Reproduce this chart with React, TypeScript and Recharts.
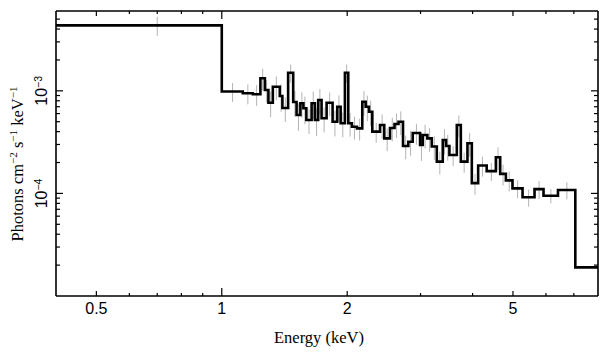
import React from 'react';
import { ComposedChart, Line, Scatter, ErrorBar, XAxis, YAxis } from 'recharts';

// Bin edges in keV (last value is the right edge of the final bin)
const BIN_EDGES = [
  0.4, 1.0, 1.123, 1.187, 1.238, 1.269, 1.294, 1.326, 1.378, 1.398,
  1.443, 1.484, 1.512, 1.544, 1.57, 1.596, 1.643, 1.673, 1.704, 1.736,
  1.785, 1.845, 1.893, 1.929, 1.975, 2.012, 2.053, 2.111, 2.174, 2.215,
  2.256, 2.298, 2.398, 2.455, 2.534, 2.598, 2.656, 2.723, 2.804, 2.873,
  2.992, 3.037, 3.115, 3.192, 3.282, 3.392, 3.455, 3.519, 3.666, 3.748,
  3.888, 3.983, 4.125, 4.324, 4.549, 4.659, 4.808, 4.987, 5.272, 5.633,
  5.92, 6.412, 7.057, 8.0,
];

// Photons cm^-2 s^-1 keV^-1, one value per bin
const FLUX = [
  4.35e-3, 9.85e-4, 9.46e-4, 9.25e-4, 1.325e-3, 1.019e-3, 7.66e-4, 1.097e-3, 8.91e-4, 6.8e-4,
  1.502e-3, 7.78e-4, 5.81e-4, 7.56e-4, 6.76e-4, 5.2e-4, 7.56e-4, 5.2e-4, 8.14e-4, 5.4e-4,
  7.66e-4, 5.0e-4, 7.0e-4, 4.83e-4, 1.502e-3, 4.83e-4, 4.47e-4, 4.31e-4, 7.83e-4, 7.0e-4,
  6.26e-4, 4.0e-4, 4.64e-4, 3.44e-4, 4.34e-4, 4.75e-4, 5.0e-4, 2.9e-4, 3.19e-4, 3.88e-4,
  2.96e-4, 3.71e-4, 3.44e-4, 2.87e-4, 2.04e-4, 3.32e-4, 2.9e-4, 2.37e-4, 4.64e-4, 2.04e-4,
  3.08e-4, 1.26e-4, 1.87e-4, 1.65e-4, 2.25e-4, 1.55e-4, 1.34e-4, 1.12e-4, 9.16e-5, 1.1e-4,
  9.5e-5, 1.08e-4, 1.9e-5,
];

// relative 1-sigma error of each bin
const ERR_FRAC = [
  0.21, 0.21, 0.22, 0.23, 0.24, 0.25, 0.28, 0.26, 0.3, 0.27,
  0.2, 0.28, 0.3, 0.28, 0.3, 0.27, 0.3, 0.3, 0.28, 0.27,
  0.26, 0.28, 0.29, 0.27, 0.2, 0.26, 0.25, 0.24, 0.27, 0.28,
  0.28, 0.22, 0.27, 0.25, 0.26, 0.27, 0.26, 0.26, 0.27, 0.23,
  0.3, 0.26, 0.26, 0.26, 0.25, 0.28, 0.28, 0.22, 0.24, 0.22,
  0.26, 0.23, 0.22, 0.2, 0.25, 0.23, 0.22, 0.2, 0.19, 0.2,
  0.16, 0.19, 0,
];

const X_TICKS = [0.5, 0.6, 0.7, 0.8, 0.9, 1, 2, 3, 4, 5, 6, 7];
const X_LABELS = [0.5, 1, 2, 5];
const Y_TICKS = [
  2e-5, 3e-5, 4e-5, 5e-5, 6e-5, 7e-5, 8e-5, 9e-5,
  1e-4, 2e-4, 3e-4, 4e-4, 5e-4, 6e-4, 7e-4, 8e-4, 9e-4,
  1e-3, 2e-3, 3e-3, 4e-3, 5e-3,
];
const Y_LABELS = [1e-4, 1e-3];

const stepData = BIN_EDGES.map((e, i) => ({ e, v: FLUX[Math.min(i, FLUX.length - 1)] }));
const errData = FLUX.map((v, i) => ({
  e: (BIN_EDGES[i] + BIN_EDGES[i + 1]) / 2,
  v,
  err: v * ERR_FRAC[i],
}));

const SANS = '"Liberation Sans", Arial, sans-serif';
const SERIF = '"Liberation Serif", "Times New Roman", serif';

const xTickLen = (v: number) => (v === 1 ? 8 : X_LABELS.includes(v) ? 5 : 3);
const yTickLen = (v: number) => (Y_LABELS.includes(v) ? 7 : 4);

const BottomTick = (props: any) => {
  const { x, y, payload } = props;
  const v = payload.value;
  return (
    <g>
      <line x1={x} y1={y} x2={x} y2={y - xTickLen(v)} stroke="#000" strokeWidth={1.2} />
      {X_LABELS.includes(v) && (
        <text x={x} y={y + 17.5} textAnchor="middle" fontSize={16} fontFamily={SANS} fill="#000">
          {v}
        </text>
      )}
    </g>
  );
};

const TopTick = (props: any) => {
  const { x, y, payload } = props;
  return <line x1={x} y1={y} x2={x} y2={y + xTickLen(payload.value)} stroke="#000" strokeWidth={1.2} />;
};

const LeftTick = (props: any) => {
  const { x, y, payload } = props;
  const v = payload.value;
  const exp = Math.round(Math.log10(v));
  return (
    <g>
      <line x1={x} y1={y} x2={x + yTickLen(v)} y2={y} stroke="#000" strokeWidth={1.2} />
      {Y_LABELS.includes(v) && (
        <text
          transform={`translate(${x - 9},${y}) rotate(-90)`}
          textAnchor="middle"
          fontSize={16}
          fontFamily={SANS}
          fill="#000"
        >
          10<tspan dy={-5} fontSize={10.5}>{'\u2212' + Math.abs(exp)}</tspan>
        </text>
      )}
    </g>
  );
};

const RightTick = (props: any) => {
  const { x, y, payload } = props;
  return <line x1={x} y1={y} x2={x - yTickLen(payload.value)} y2={y} stroke="#000" strokeWidth={1.2} />;
};

const axisLine = { stroke: '#000', strokeWidth: 1.6 };

export default function App() {
  return (
    <div style={{ position: 'relative', width: 609, height: 357, background: '#fff' }}>
      <style>{'body{margin:0}'}</style>
      <ComposedChart width={609} height={357} margin={{ top: 1, right: 1, bottom: 31, left: 26 }}>
        <XAxis
          dataKey="e"
          type="number"
          scale="log"
          domain={[0.4, 8]}
          allowDataOverflow
          ticks={X_TICKS}
          interval={0}
          tickSize={0}
          tickMargin={0}
          tick={<BottomTick />}
          height={30}
          axisLine={axisLine}
          tickLine={false}
        />
        <XAxis
          xAxisId="top"
          orientation="top"
          dataKey="e"
          type="number"
          scale="log"
          domain={[0.4, 8]}
          allowDataOverflow
          ticks={X_TICKS}
          interval={0}
          tickSize={0}
          tickMargin={0}
          tick={<TopTick />}
          height={10}
          axisLine={axisLine}
          tickLine={false}
        />
        <YAxis
          dataKey="v"
          type="number"
          scale="log"
          domain={[1e-5, 6e-3]}
          allowDataOverflow
          ticks={Y_TICKS}
          interval={0}
          tickSize={0}
          tickMargin={0}
          tick={<LeftTick />}
          width={30}
          axisLine={axisLine}
          tickLine={false}
        />
        <YAxis
          yAxisId="right"
          orientation="right"
          dataKey="v"
          type="number"
          scale="log"
          domain={[1e-5, 6e-3]}
          allowDataOverflow
          ticks={Y_TICKS}
          interval={0}
          tickSize={0}
          tickMargin={0}
          tick={<RightTick />}
          width={10}
          axisLine={axisLine}
          tickLine={false}
        />
        <Scatter data={errData} dataKey="v" shape={() => <g />} isAnimationActive={false}>
          <ErrorBar dataKey="err" direction="y" width={0} stroke="#b4b4b4" strokeWidth={1} />
        </Scatter>
        <Line
          data={stepData}
          dataKey="v"
          type="stepAfter"
          stroke="#000"
          strokeWidth={2.6}
          strokeLinejoin="miter"
          dot={false}
          activeDot={false}
          isAnimationActive={false}
        />
      </ComposedChart>
      <svg width={609} height={357} style={{ position: 'absolute', left: 0, top: 0, pointerEvents: 'none' }}>
        <text x={319} y={343} textAnchor="middle" fontSize={16.5} fontFamily={SERIF} fill="#000">
          Energy (keV)
        </text>
        <text
          transform="translate(23,164) rotate(-90)"
          textAnchor="middle"
          fontSize={16.5}
          fontFamily={SERIF}
          fill="#000"
        >
          Photons cm<tspan dy={-6} fontSize={11}>{'\u22122'}</tspan>
          <tspan dy={6}> s</tspan>
          <tspan dy={-6} fontSize={11}>{'\u22121'}</tspan>
          <tspan dy={6}> keV</tspan>
          <tspan dy={-6} fontSize={11}>{'\u22121'}</tspan>
        </text>
      </svg>
    </div>
  );
}
